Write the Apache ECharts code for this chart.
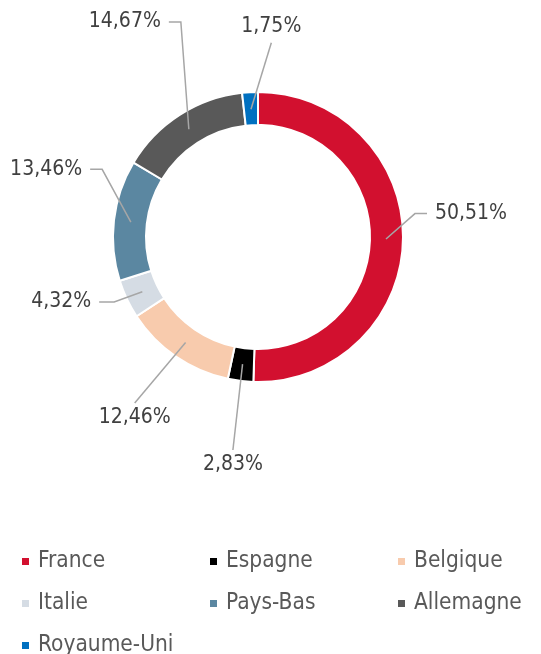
<!DOCTYPE html>
<html>
<head>
<meta charset="utf-8">
<script src="https://cdn.jsdelivr.net/npm/echarts@6/dist/echarts.min.js"></script>
<style>
  html, body { margin: 0; padding: 0; background: #fff; }
  #chart { width: 541px; height: 654px; }
</style>
</head>
<body>
<div id="chart"></div>
<script>
// share of each country, in percent
const countries = ["France", "Espagne", "Belgique", "Italie", "Pays-Bas", "Allemagne", "Royaume-Uni"];
const shares = [50.51, 2.83, 12.46, 4.32, 13.46, 14.67, 1.75];
const colors = ["#D2102F", "#000000", "#F8CBAD", "#D5DCE4", "#5B87A1", "#595959", "#0070C0"];

// label placement per slice (layout only)
const lineLen = [32, 80, 74, 40, 42, 74, 66];
const lineLen2 = [12, 2, 2, 12, 12, 12, 4];
const labelDx = [0, 37, 34, 2, 10, 29, 63];
const labelDy = [-26, 21, 14, -7, -48, -45, -17];
const lineSide = ["left", "top", "top", "right", "right", "right", "bottom"];
const lineTail = [12, 0, 0, 15, 12, 12, 0];

// legend columns
const legendCols = [
  ["France", "Italie", "Royaume-Uni"],
  ["Espagne", "Pays-Bas"],
  ["Belgique", "Allemagne"]
];
const legendLeft = [20, 208, 396];

const font = "'DejaVu Sans Condensed', 'Liberation Sans', sans-serif";

const chart = echarts.init(document.getElementById("chart"));

const ringData = countries.map((name, i) => ({
  name: name,
  value: shares[i],
  itemStyle: { color: colors[i] }
}));

const labelData = countries.map((name, i) => ({
  name: name,
  value: shares[i],
  labelLine: { length: lineLen[i], length2: lineLen2[i] }
}));

// move the label, then redraw its leader line from the ring to the label
function layoutLabel(p) {
  const i = p.dataIndex;
  const dx = labelDx[i], dy = labelDy[i];
  const r = p.labelRect;
  const x0 = r.x + dx, y0 = r.y + dy;
  const start = p.labelLinePoints ? p.labelLinePoints[0] : [x0, y0];
  const gap = 8;
  let end, elbow;
  if (lineSide[i] === "left") {
    end = [x0 - gap, y0 + r.height / 2];
    elbow = [end[0] - lineTail[i], end[1]];
  } else if (lineSide[i] === "right") {
    end = [x0 + r.width + gap, y0 + r.height / 2];
    elbow = [end[0] + lineTail[i], end[1]];
  } else if (lineSide[i] === "top") {
    end = [x0 + r.width / 2, y0 - gap + 4];
    elbow = end;
  } else {
    end = [x0 + r.width / 2, y0 + r.height + gap - 2];
    elbow = end;
  }
  return { dx: dx, dy: dy, labelLinePoints: [start, elbow, end] };
}

const option = {
  animation: false,
  legend: legendCols.map((col, i) => ({
    data: col,
    orient: "vertical",
    left: legendLeft[i],
    top: 550,
    height: 110,
    padding: 0,
    icon: "rect",
    itemWidth: 9,
    itemHeight: 9,
    itemGap: 19,
    selectedMode: false,
    textStyle: {
      fontFamily: font,
      fontSize: 22.5,
      color: "#595959",
      lineHeight: 22,
      padding: [0, 0, 0, 3]
    }
  })),
  series: [
    {
      type: "pie",
      center: [258, 237],
      radius: [112, 145],
      startAngle: 90,
      clockwise: true,
      silent: true,
      z: 2,
      label: { show: false },
      labelLine: { show: false },
      itemStyle: { borderColor: "#ffffff", borderWidth: 2 },
      data: ringData
    },
    {
      // invisible pie, only to anchor the labels at the middle of the ring
      type: "pie",
      center: [258, 237],
      radius: [0, 128],
      startAngle: 90,
      clockwise: true,
      silent: true,
      z: 5,
      itemStyle: { color: "rgba(0,0,0,0)" },
      label: {
        show: true,
        fontFamily: font,
        fontSize: 21,
        color: "#404040",
        overflow: "none",
        formatter: p => p.value.toFixed(2).replace(".", ",") + "%"
      },
      labelLine: {
        show: true,
        lineStyle: { color: "#A6A6A6", width: 1.5 }
      },
      labelLayout: layoutLabel,
      data: labelData
    }
  ]
};

chart.setOption(option);
</script>
</body>
</html>
